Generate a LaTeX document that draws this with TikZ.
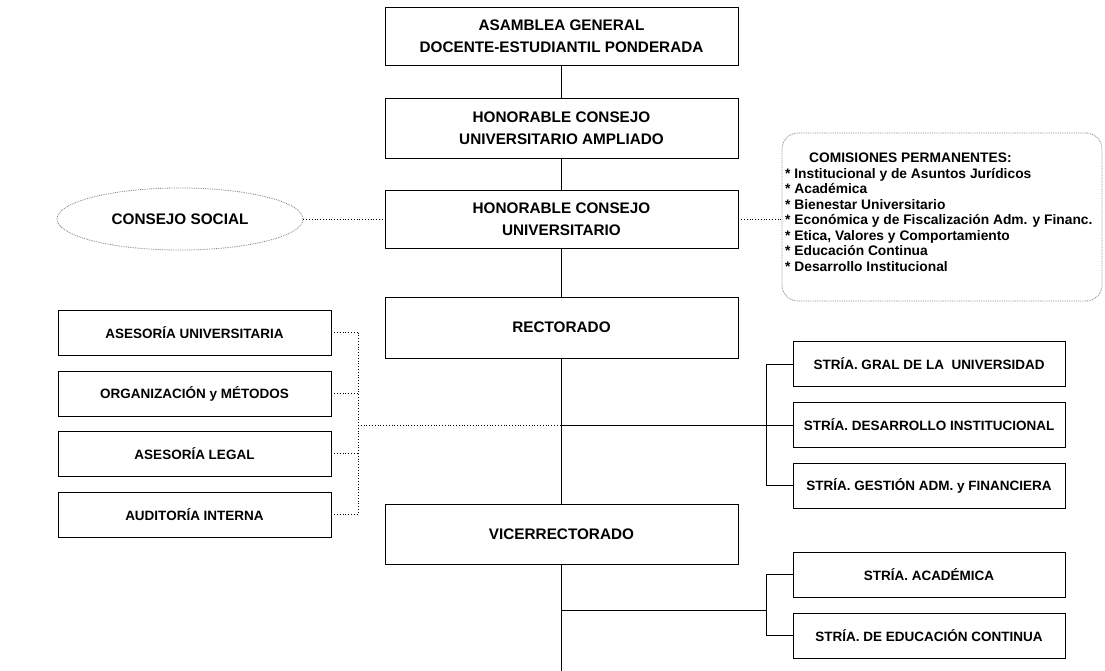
\documentclass[tikz,border=0pt]{standalone}
\usepackage{fontspec}
\setmainfont{Liberation Sans}
\usetikzlibrary{shapes.geometric}
\begin{document}
\begin{tikzpicture}[x=1pt,y=-1pt,
  box/.style={draw=black, line width=0.9pt, fill=white, minimum width=353pt, inner sep=0pt, align=center, font=\fontsize{15.3}{21.5}\selectfont\bfseries},
  sbox/.style={draw=black, line width=0.9pt, fill=white, minimum width=272pt, minimum height=45pt, inner sep=0pt, font=\fontsize{13.5}{16}\selectfont\bfseries},
  lbox/.style={sbox, minimum width=273pt},
  link/.style={line width=1pt},
  dotlink/.style={dotted, line width=0.8pt},
  softline/.style={draw=gray, densely dotted, line width=0.8pt}]
\useasboundingbox (0,0) rectangle (1105,671);
\fill[white] (0,0) rectangle (1105,671);

% central column
\node[box, minimum height=58pt] (asam) at (561.5,36) {ASAMBLEA GENERAL\\DOCENTE-ESTUDIANTIL PONDERADA};
\node[box, minimum height=60pt] (hcua) at (561.5,128) {HONORABLE CONSEJO\\UNIVERSITARIO AMPLIADO};
\node[box, minimum height=58pt] (hcu) at (561.5,219) {HONORABLE CONSEJO\\UNIVERSITARIO};
\node[box, minimum height=61pt] (rect) at (561.5,327.5) {RECTORADO};
\node[box, minimum height=60pt] (vice) at (561.5,534) {VICERRECTORADO};
\coordinate (bot) at (561.5,671);

% right secretariats
\node[sbox] (sg) at (929,364) {STRÍA. GRAL DE LA \ UNIVERSIDAD};
\node[sbox] (sd) at (929,425) {STRÍA. DESARROLLO INSTITUCIONAL};
\node[sbox] (sgest) at (929,485.5) {STRÍA. GESTIÓN ADM. y FINANCIERA};
\node[sbox] (sa) at (929,574.5) {STRÍA. ACADÉMICA};
\node[sbox] (se) at (929,635.5) {STRÍA. DE EDUCACIÓN CONTINUA};

% left advisory boxes
\node[lbox] (au) at (194.5,332.5) {ASESORÍA UNIVERSITARIA};
\node[lbox] (om) at (194.5,393.5) {ORGANIZACIÓN y MÉTODOS};
\node[lbox] (al) at (194.5,453.5) {ASESORÍA LEGAL};
\node[lbox] (ai) at (194.5,514.5) {AUDITORÍA INTERNA};

% consejo social
\node[ellipse, softline, minimum width=246pt, minimum height=62pt, inner sep=0pt, font=\fontsize{15.3}{18}\selectfont\bfseries] (cs) at (180,219) {CONSEJO SOCIAL};

% comisiones
\node[softline, rounded corners=16pt, minimum width=320pt, minimum height=168pt] (com) at (942,217) {};
\node[anchor=west, inner sep=0pt, align=left, font=\fontsize{13.8}{15.5}\selectfont\bfseries] (comtext) at (785,212)
 {\hspace*{24pt}COMISIONES PERMANENTES:\\
  * Institucional y de Asuntos Jurídicos\\
  * Académica\\
  * Bienestar Universitario\\
  * Económica y de Fiscalización Adm. y Financ.\\
  * Etica, Valores y Comportamiento\\
  * Educación Continua\\
  * Desarrollo Institucional};

% central links
\draw[link] (asam) -- (hcua);
\draw[link] (hcua) -- (hcu);
\draw[link] (hcu) -- (rect);
\draw[link] (rect) -- (vice);
\draw[link] (vice.south) -- (bot);

% rectorado branch
\coordinate (j1) at (561.5,425);
\coordinate (b1) at (766,425);
\draw[link] (j1) -- (b1);
\draw[link] (sg.west) -| (b1) |- (sgest.west);
\draw[link] (b1) -- (sd.west);

% vicerrectorado branch
\coordinate (j2) at (561.5,610);
\coordinate (b2) at (766,610);
\draw[link] (j2) -- (b2);
\draw[link] (sa.west) -| (b2) |- (se.west);

% dotted links
\draw[dotlink] (cs.east) -- (hcu.west);
\draw[dotlink] (hcu.east) -- (hcu.east -| com.west);
\coordinate (lv) at (358,425);
\draw[dotlink] (au.east) -- (au.east -| lv);
\draw[dotlink] (om.east) -- (om.east -| lv);
\draw[dotlink] (al.east) -- (al.east -| lv);
\draw[dotlink] (ai.east) -- (ai.east -| lv);
\draw[dotlink] (au.east -| lv) -- (ai.east -| lv);
\draw[dotlink] (lv) -- (j1);
\end{tikzpicture}
\end{document}
